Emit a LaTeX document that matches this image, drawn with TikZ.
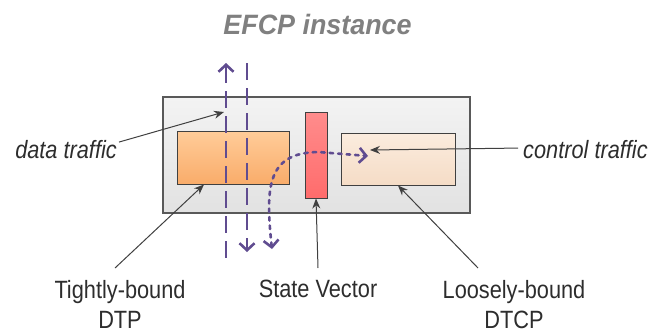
\documentclass[tikz,border=0pt]{standalone}
\usepackage{fontspec}
\setmainfont{Liberation Sans}[FakeStretch=0.87]
\newfontfamily\titlefont{Liberation Sans}[FakeStretch=0.96]
\usetikzlibrary{arrows.meta}
\definecolor{flowc}{RGB}{96,76,144}
\definecolor{labc}{RGB}{64,64,64}
\definecolor{boxline}{RGB}{89,89,89}
\definecolor{titlec}{RGB}{128,128,128}
\tikzset{
  outerbox/.style={draw=boxline, line width=1.3pt, top color={rgb,255:red,243;green,243;blue,243}, bottom color={rgb,255:red,226;green,226;blue,226}, minimum width=307pt, minimum height=116pt, inner sep=0pt},
  dtpbox/.style={draw=labc, line width=1pt, top color={rgb,255:red,255;green,204;blue,153}, bottom color={rgb,255:red,249;green,172;blue,106}, minimum width=112pt, minimum height=53pt, inner sep=0pt},
  svbox/.style={draw=labc, line width=1pt, top color={rgb,255:red,255;green,140;blue,140}, bottom color={rgb,255:red,255;green,108;blue,108}, minimum width=22pt, minimum height=86pt, inner sep=0pt},
  dtcpbox/.style={draw=labc, line width=1pt, top color={rgb,255:red,251;green,236;blue,222}, bottom color={rgb,255:red,245;green,220;blue,198}, minimum width=114pt, minimum height=52pt, inner sep=0pt},
  titletext/.style={font=\titlefont\fontsize{28}{30}\selectfont\bfseries\itshape, text=titlec, inner sep=0pt},
  labtext/.style={font=\fontsize{25}{30}\selectfont, text=labc!70!black, inner sep=0pt, align=center},
  sidetext/.style={font=\fontsize{25}{28}\selectfont\itshape, text=labc!70!black, inner sep=0pt},
  labarrow/.style={draw=labc, line width=1pt, -{Stealth[length=10pt,width=8pt]}},
  dataflow/.style={draw=flowc, line width=2.6pt, dash pattern=on 17pt off 8pt},
  dotflow/.style={draw=flowc, line width=2.6pt, line cap=round, dash pattern=on 3.5pt off 5pt},
  chev/.tip={Straight Barb[length=7pt,width=15pt,line width=2.6pt]}
}
\begin{document}
\begin{tikzpicture}[x=1pt,y=-1pt]
\useasboundingbox (0,0) rectangle (650,335);
% title
\node[titletext, anchor=base] (ttl) at (317.5,34) {EFCP instance};
% boxes
\node[outerbox] (efcp) at (316.5,155) {};
\node[dtpbox] (dtp) at (233,157.5) {};
\node[svbox] (sv) at (316,155) {};
\node[dtcpbox] (dtcp) at (398,159) {};
% data traffic flows
\coordinate (upT) at (226,63);
\coordinate (upB) at (226,263);
\coordinate (dnT) at (247,63);
\coordinate (dnB) at (247,252);
\draw[dataflow, {chev}-] (upT) -- (upB);
\draw[dataflow, -{chev}] (dnT) -- (dnB);
% control traffic flow
\coordinate (ctA) at (272,249);
\coordinate (ctM) at (318,152);
\coordinate (ctB) at (368,156);
\draw[dotflow, {chev}-{chev}] (ctA) .. controls (265,185) and (268,153) .. (ctM) -- (ctB);
% labels
\node[sidetext, anchor=base east] (dt) at (117,158) {data traffic};
\node[sidetext, anchor=base west] (ct) at (523,158) {control traffic};
\node[labtext, anchor=north] (tb) at (120,280) {Tightly-bound\\DTP};
\node[labtext, anchor=north] (svl) at (318,280) {State Vector};
\node[labtext, anchor=north] (lb) at (514,280) {Loosely-bound\\DTCP};
\coordinate (dtTip) at (224,112);
\coordinate (ctTip) at (370,150);
\draw[labarrow] ([shift={(2pt,7pt)}]dt.east) -- (dtTip);
\draw[labarrow] ([shift={(-5pt,1pt)}]ct.west) -- (ctTip);
\draw[labarrow] ([shift={(-5pt,12pt)}]tb.north) -- ([xshift=-29pt]dtp.south);
\draw[labarrow] ([yshift=12pt]svl.north) -- (sv.south);
\draw[labarrow] ([shift={(-36pt,12pt)}]lb.north) -- (dtcp.south);
\end{tikzpicture}
\end{document}
